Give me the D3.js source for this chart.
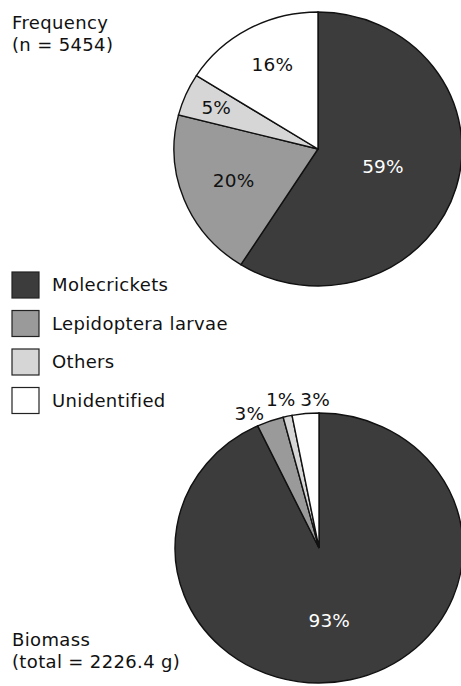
<!DOCTYPE html>
<html><head><meta charset="utf-8">
<script src="https://cdn.jsdelivr.net/npm/d3@7"></script>
<style>body{margin:0;background:#fff}svg{display:block}text{font-family:"DejaVu Sans",Verdana,sans-serif}</style>
</head><body>
<script>
const categories = ["Molecrickets", "Lepidoptera larvae", "Others", "Unidentified"];
const frequencyValues = [59, 20, 5, 16];
const biomassValues = [93, 3, 1, 3];
const frequencyTitle = ["Frequency", "(n = 5454)"];
const biomassTitle = ["Biomass", "(total = 2226.4 g)"];
const colors = ["#3c3c3c", "#9a9a9a", "#d6d6d6", "#ffffff"];

const W = 461, H = 686;
const svg = d3.select("body").append("svg").attr("width", W).attr("height", H);

const pie = d3.pie().sort(null).value(d => d);

function drawPie(values, cx, cy, rx, ry, labelCfg) {
  const sy = ry / rx;
  const arc = d3.arc().innerRadius(0).outerRadius(rx);
  const arcs = pie(values);
  const g = svg.append("g").attr("transform", `translate(${cx},${cy}) scale(1,${sy})`);
  g.selectAll("path").data(arcs).enter().append("path")
    .attr("d", arc)
    .attr("fill", (d, i) => colors[i])
    .attr("stroke", "#111")
    .attr("stroke-width", 1.4)
    .attr("vector-effect", "non-scaling-stroke");
  const tg = svg.append("g").attr("transform", `translate(${cx},${cy})`);
  tg.selectAll("text").data(arcs).enter().append("text")
    .attr("x", (d, i) => {
      const a = (d.startAngle + d.endAngle) / 2 + labelCfg[i].da * Math.PI / 180;
      return Math.sin(a) * rx * labelCfg[i].r;
    })
    .attr("y", (d, i) => {
      const a = (d.startAngle + d.endAngle) / 2 + labelCfg[i].da * Math.PI / 180;
      return -Math.cos(a) * rx * labelCfg[i].r * sy;
    })
    .attr("dy", "0.35em")
    .attr("text-anchor", "middle")
    .attr("font-size", 18.5)
    .attr("letter-spacing", 0.2)
    .attr("fill", (d, i) => i === 0 ? "#fff" : "#111")
    .text(d => d.data + "%");
}

drawPie(frequencyValues, 318, 149, 144, 137, [
  {r: 0.47, da: 0}, {r: 0.63, da: 0}, {r: 0.77, da: 0}, {r: 0.69, da: 1.5}
]);
drawPie(biomassValues, 319, 548, 144, 135, [
  {r: 0.54, da: 5}, {r: 1.11, da: -6}, {r: 1.13, da: -1}, {r: 1.10, da: 4}
]);

function title(lines, x, y) {
  svg.append("g").selectAll("text").data(lines).enter().append("text")
    .attr("x", x).attr("y", (d, i) => y + i * 21.5)
    .attr("font-size", 18).attr("letter-spacing", 0.35).attr("fill", "#111").text(d => d);
}
title(frequencyTitle, 12, 29);
title(biomassTitle, 12, 646);

const lg = svg.append("g").selectAll("g").data(categories).enter().append("g")
  .attr("transform", (d, i) => `translate(12,${272 + i * 38.5})`);
lg.append("rect").attr("width", 27).attr("height", 26)
  .attr("fill", (d, i) => colors[i]).attr("stroke", "#222").attr("stroke-width", 1.2);
lg.append("text").attr("x", 40).attr("y", 13).attr("dy", "0.35em")
  .attr("font-size", 18).attr("letter-spacing", 0.35).attr("fill", "#111").text(d => d);
</script>
</body></html>
